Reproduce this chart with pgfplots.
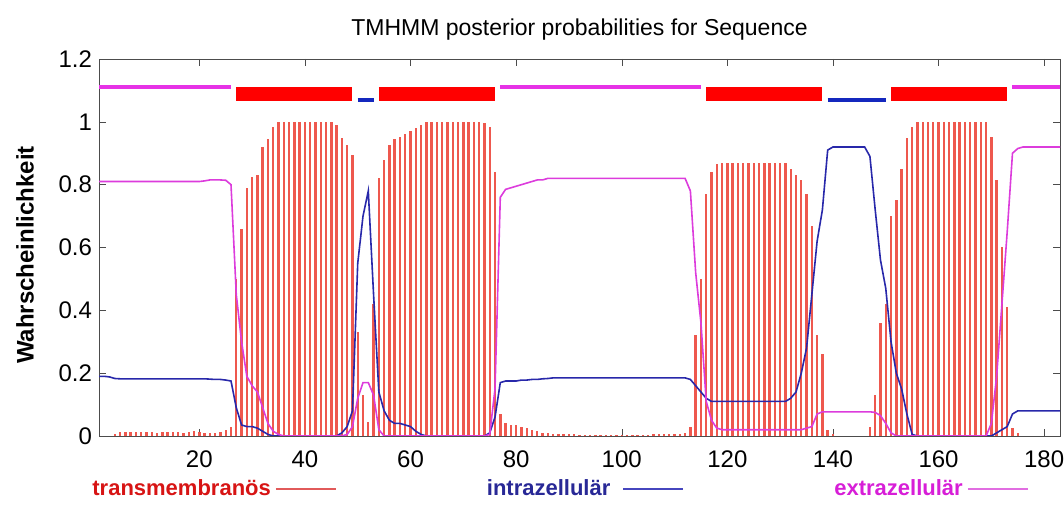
\documentclass[border=0pt]{standalone}
\usepackage{fontspec}
\setmainfont{Liberation Sans}
\usepackage{pgfplots}
\pgfplotsset{compat=1.18}
\usepackage{pgfplotstable}

\definecolor{tmSpike}{RGB}{238,88,78}
\definecolor{tmBar}{RGB}{255,0,0}
\definecolor{inLine}{RGB}{40,40,170}
\definecolor{inBar}{RGB}{20,40,190}
\definecolor{outLine}{RGB}{220,60,220}
\definecolor{outBar}{RGB}{230,50,230}
\definecolor{lgRed}{RGB}{225,90,90}
\definecolor{lgBlue}{RGB}{70,70,190}
\definecolor{lgMag}{RGB}{225,110,225}
\definecolor{txRed}{RGB}{215,20,20}
\definecolor{txBlue}{RGB}{40,40,150}
\definecolor{txMag}{RGB}{215,30,215}

% residue, P(inside), P(outside), P(TM helix)
\pgfplotstableread{
n inside outside tm
1 0.190 0.810 0.000
2 0.190 0.810 0.000
3 0.188 0.810 0.000
4 0.183 0.810 0.006
5 0.182 0.810 0.012
6 0.182 0.810 0.014
7 0.182 0.810 0.012
8 0.182 0.810 0.013
9 0.182 0.810 0.012
10 0.182 0.810 0.014
11 0.182 0.810 0.012
12 0.182 0.810 0.011
13 0.182 0.810 0.013
14 0.182 0.810 0.012
15 0.182 0.810 0.014
16 0.182 0.810 0.012
17 0.182 0.810 0.011
18 0.182 0.810 0.013
19 0.182 0.810 0.015
20 0.182 0.810 0.012
21 0.182 0.812 0.010
22 0.181 0.815 0.008
23 0.180 0.815 0.010
24 0.180 0.815 0.012
25 0.178 0.814 0.018
26 0.175 0.800 0.028
27 0.090 0.450 0.500
28 0.035 0.300 0.660
29 0.030 0.190 0.790
30 0.030 0.160 0.825
31 0.025 0.140 0.830
32 0.015 0.090 0.920
33 0.005 0.040 0.945
34 0.000 0.015 0.985
35 0.000 0.005 1.000
36 0.000 0.000 1.000
37 0.000 0.000 1.000
38 0.000 0.000 1.000
39 0.000 0.000 1.000
40 0.000 0.000 1.000
41 0.000 0.000 1.000
42 0.000 0.000 1.000
43 0.000 0.000 1.000
44 0.000 0.000 1.000
45 0.000 0.000 1.000
46 0.000 0.000 0.990
47 0.010 0.000 0.950
48 0.030 0.005 0.925
49 0.080 0.030 0.895
50 0.550 0.120 0.330
51 0.700 0.170 0.130
52 0.780 0.170 0.045
53 0.450 0.130 0.420
54 0.140 0.020 0.820
55 0.080 0.000 0.880
56 0.050 0.000 0.927
57 0.040 0.000 0.945
58 0.040 0.000 0.953
59 0.035 0.000 0.960
60 0.030 0.000 0.970
61 0.015 0.000 0.980
62 0.005 0.000 0.990
63 0.000 0.000 1.000
64 0.000 0.000 1.000
65 0.000 0.000 1.000
66 0.000 0.000 1.000
67 0.000 0.000 1.000
68 0.000 0.000 1.000
69 0.000 0.000 1.000
70 0.000 0.000 1.000
71 0.000 0.000 1.000
72 0.000 0.000 1.000
73 0.000 0.000 1.000
74 0.000 0.000 0.995
75 0.010 0.005 0.985
76 0.060 0.150 0.840
77 0.170 0.760 0.070
78 0.175 0.785 0.040
79 0.175 0.790 0.035
80 0.175 0.795 0.035
81 0.178 0.800 0.030
82 0.178 0.805 0.025
83 0.180 0.810 0.020
84 0.180 0.815 0.015
85 0.182 0.815 0.010
86 0.183 0.820 0.010
87 0.185 0.820 0.005
88 0.185 0.820 0.005
89 0.185 0.820 0.005
90 0.185 0.820 0.005
91 0.185 0.820 0.005
92 0.185 0.820 0.004
93 0.185 0.820 0.004
94 0.185 0.820 0.002
95 0.185 0.820 0.002
96 0.185 0.820 0.002
97 0.185 0.820 0.002
98 0.185 0.820 0.002
99 0.185 0.820 0.002
100 0.185 0.820 0.002
101 0.185 0.820 0.002
102 0.185 0.820 0.002
103 0.185 0.820 0.002
104 0.185 0.820 0.002
105 0.185 0.820 0.002
106 0.185 0.820 0.005
107 0.185 0.820 0.005
108 0.185 0.820 0.005
109 0.185 0.820 0.005
110 0.185 0.820 0.005
111 0.185 0.820 0.006
112 0.185 0.820 0.010
113 0.180 0.780 0.030
114 0.160 0.520 0.320
115 0.140 0.360 0.500
116 0.120 0.110 0.770
117 0.110 0.050 0.840
118 0.110 0.025 0.865
119 0.110 0.020 0.870
120 0.110 0.020 0.870
121 0.110 0.020 0.870
122 0.110 0.020 0.870
123 0.110 0.020 0.870
124 0.110 0.020 0.870
125 0.110 0.020 0.870
126 0.110 0.020 0.870
127 0.110 0.020 0.870
128 0.110 0.020 0.870
129 0.110 0.020 0.870
130 0.110 0.020 0.870
131 0.110 0.020 0.870
132 0.120 0.020 0.850
133 0.140 0.020 0.830
134 0.200 0.020 0.815
135 0.280 0.025 0.770
136 0.450 0.030 0.670
137 0.620 0.070 0.320
138 0.720 0.077 0.260
139 0.910 0.077 0.020
140 0.920 0.077 0.005
141 0.920 0.077 0.000
142 0.920 0.077 0.000
143 0.920 0.077 0.000
144 0.920 0.077 0.000
145 0.920 0.077 0.000
146 0.920 0.077 0.000
147 0.890 0.077 0.030
148 0.720 0.075 0.130
149 0.560 0.065 0.360
150 0.470 0.040 0.420
151 0.300 0.010 0.700
152 0.200 0.000 0.750
153 0.150 0.000 0.850
154 0.070 0.000 0.950
155 0.005 0.000 0.985
156 0.000 0.000 1.000
157 0.000 0.000 1.000
158 0.000 0.000 1.000
159 0.000 0.000 1.000
160 0.000 0.000 1.000
161 0.000 0.000 1.000
162 0.000 0.000 1.000
163 0.000 0.000 1.000
164 0.000 0.000 1.000
165 0.000 0.000 1.000
166 0.000 0.000 1.000
167 0.000 0.000 1.000
168 0.000 0.000 1.000
169 0.000 0.000 1.000
170 0.000 0.040 0.953
171 0.010 0.190 0.815
172 0.020 0.420 0.600
173 0.030 0.650 0.410
174 0.070 0.900 0.025
175 0.080 0.915 0.010
176 0.080 0.920 0.000
177 0.080 0.920 0.000
178 0.080 0.920 0.000
179 0.080 0.920 0.000
180 0.080 0.920 0.000
181 0.080 0.920 0.000
182 0.080 0.920 0.000
183 0.080 0.920 0.000
}\probs

\begin{document}
\begin{tikzpicture}
\path[use as bounding box] (0,0) rectangle (532pt,262pt);
\begin{axis}[
    at={(49.5pt,44pt)}, anchor=south west,
    scale only axis,
    width=480.5pt, height=188.5pt,
    xmin=1, xmax=183, ymin=0, ymax=1.2,
    xtick={20,40,...,180},
    ytick={0,0.2,0.4,0.6,0.8,1,1.2},
    tick align=inside,
    major tick length=3.5pt,
    axis line style={black!70},
    tick style={black!70},
    /pgf/number format/assume math mode=true,
    ticklabel style={font=\fontsize{12}{14}\selectfont},
    x tick label style={yshift=-4pt},
    title={TMHMM posterior probabilities for Sequence},
    title style={at={(0.5,1)}, anchor=center, yshift=8.5pt,
        font=\fontsize{11.5}{13}\selectfont},
    ylabel={Wahrscheinlichkeit},
    ylabel style={at={(rel axis cs:0,0.48)}, anchor=center, yshift=37pt,
        font=\bfseries\fontsize{12}{14}\selectfont},
    legend columns=3,
    legend plot pos=right,
    legend image code/.code={\draw[#1] (0pt,0pt) -- (30pt,0pt);},
    legend style={draw=none, fill=none, at={(0,0)}, anchor=west,
        xshift=-8.5pt, yshift=-26.5pt,
        font=\bfseries\fontsize{11}{13}\selectfont,
        /tikz/every even column/.append style={column sep=73pt}},
]
% TM helix probability as impulses
\addplot[tmSpike, line width=1.2pt, ycomb, forget plot] table[x=n, y=tm] {\probs};
\addplot[inLine, line width=0.8pt, forget plot] table[x=n, y=inside] {\probs};
\addplot[outLine, line width=0.8pt, forget plot] table[x=n, y=outside] {\probs};

% predicted topology on top
\addplot[outBar, line width=2pt, forget plot] coordinates {(1,1.11) (26,1.11)};
\addplot[tmBar, line width=7pt, forget plot] coordinates {(27,1.09) (49,1.09)};
\addplot[inBar, line width=2pt, forget plot] coordinates {(50,1.07) (53,1.07)};
\addplot[tmBar, line width=7pt, forget plot] coordinates {(54,1.09) (76,1.09)};
\addplot[outBar, line width=2pt, forget plot] coordinates {(77,1.11) (115,1.11)};
\addplot[tmBar, line width=7pt, forget plot] coordinates {(116,1.09) (138,1.09)};
\addplot[inBar, line width=2pt, forget plot] coordinates {(139,1.07) (150,1.07)};
\addplot[tmBar, line width=7pt, forget plot] coordinates {(151,1.09) (173,1.09)};
\addplot[outBar, line width=2pt, forget plot] coordinates {(174,1.11) (183,1.11)};

\addlegendimage{lgRed, line width=1pt}
\addlegendentry{\textcolor{txRed}{transmembranös}}
\addlegendimage{lgBlue, line width=1pt}
\addlegendentry{\textcolor{txBlue}{intrazellulär}\hspace*{4pt}}
\addlegendimage{lgMag, line width=1pt}
\addlegendentry{\textcolor{txMag}{extrazellulär}}
\end{axis}
\end{tikzpicture}
\end{document}
